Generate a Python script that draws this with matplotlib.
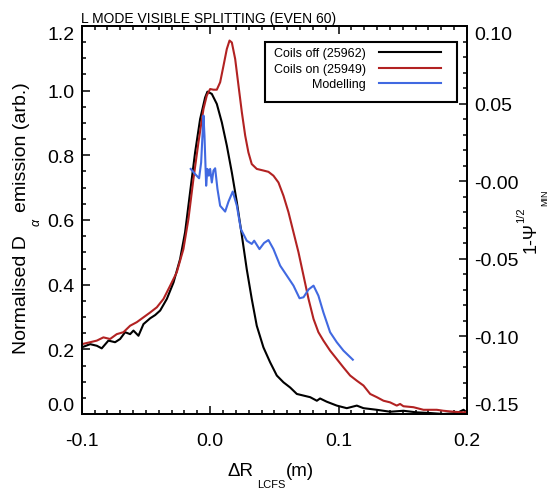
import matplotlib
matplotlib.use("Agg")
import matplotlib.pyplot as plt
from matplotlib.patches import Rectangle
from matplotlib.ticker import MultipleLocator

plt.rcParams['font.family'] = ['Liberation Sans', 'DejaVu Sans']

# Coils off (25962)
off_x = [-0.100, -0.0934, -0.0882, -0.0844, -0.0792, -0.0740, -0.0701, -0.0662, -0.0623, -0.0597,
         -0.0558, -0.0519, -0.0467, -0.0428, -0.0389, -0.0337, -0.0285, -0.0234, -0.0195, -0.0156,
         -0.0117, -0.0078, -0.0039, -0.0021, 0.0013, 0.0052, 0.0091, 0.0130, 0.0169, 0.0208,
         0.0247, 0.0285, 0.0324, 0.0363, 0.0415, 0.0467, 0.0519, 0.0571, 0.0623, 0.0675,
         0.0727, 0.0779, 0.0831, 0.0856, 0.0908, 0.0986, 0.1064, 0.1142, 0.1194, 0.1298,
         0.1401, 0.1505, 0.1609, 0.1713, 0.1817, 0.1921, 0.1973, 0.1998]
off_y = [0.206, 0.216, 0.211, 0.203, 0.227, 0.222, 0.232, 0.253, 0.247, 0.258,
         0.242, 0.278, 0.296, 0.306, 0.320, 0.356, 0.407, 0.479, 0.562, 0.686,
         0.809, 0.912, 0.979, 0.997, 0.990, 0.959, 0.902, 0.830, 0.747, 0.655,
         0.552, 0.448, 0.356, 0.273, 0.206, 0.160, 0.119, 0.098, 0.082, 0.062,
         0.057, 0.052, 0.041, 0.048, 0.038, 0.026, 0.018, 0.026, 0.018, 0.013,
         0.007, 0.010, 0.005, 0.003, 0.000, 0.003, 0.013, 0.005]

# Coils on (25949)
on_x = [-0.0999, -0.0934, -0.0882, -0.0831, -0.0779, -0.0727, -0.0675, -0.0623, -0.0571, -0.0519,
        -0.0467, -0.0415, -0.0363, -0.0311, -0.0260, -0.0208, -0.0169, -0.0130, -0.0091, -0.0052,
        -0.0026, 0.0000, 0.0026, 0.0052, 0.0078, 0.0104, 0.0130, 0.0151, 0.0169, 0.0195,
        0.0221, 0.0247, 0.0273, 0.0298, 0.0324, 0.0363, 0.0415, 0.0454, 0.0493, 0.0532,
        0.0571, 0.0610, 0.0649, 0.0688, 0.0727, 0.0766, 0.0805, 0.0843, 0.0882, 0.0934,
        0.0986, 0.1038, 0.1090, 0.1142, 0.1194, 0.1246, 0.1298, 0.1350, 0.1401, 0.1453,
        0.1479, 0.1505, 0.1583, 0.1661, 0.1765, 0.1817, 0.1895, 0.1973, 0.1998]
on_y = [0.216, 0.222, 0.227, 0.237, 0.232, 0.247, 0.253, 0.273, 0.284, 0.299,
        0.314, 0.330, 0.356, 0.397, 0.438, 0.510, 0.603, 0.727, 0.840, 0.943,
        0.985, 1.005, 1.003, 1.003, 1.026, 1.077, 1.129, 1.155, 1.149, 1.098,
        1.015, 0.933, 0.861, 0.809, 0.773, 0.758, 0.753, 0.749, 0.737, 0.716,
        0.675, 0.624, 0.562, 0.500, 0.428, 0.356, 0.294, 0.253, 0.227, 0.196,
        0.170, 0.144, 0.119, 0.103, 0.088, 0.062, 0.052, 0.041, 0.036, 0.026,
        0.031, 0.024, 0.021, 0.013, 0.013, 0.010, 0.007, 0.005, 0.007]

# Modelling
mod_x = [-0.0151, -0.0117, -0.0086, -0.0070, -0.0052, -0.0044, -0.0031, -0.0021, -0.0010, 0.0000,
         0.0013, 0.0026, 0.0039, 0.0057, 0.0078, 0.0117, 0.0143, 0.0176, 0.0208, 0.0239,
         0.0285, 0.0324, 0.0343, 0.0384, 0.0420, 0.0454, 0.0493, 0.0545, 0.0597, 0.0649,
         0.0696, 0.0727, 0.0766, 0.0805, 0.0843, 0.0882, 0.0934, 0.0986, 0.1038, 0.1111]
mod_y = [0.758, 0.742, 0.729, 0.778, 0.923, 0.861, 0.706, 0.758, 0.737, 0.758,
         0.716, 0.753, 0.760, 0.696, 0.644, 0.626, 0.657, 0.688, 0.644, 0.572,
         0.536, 0.526, 0.536, 0.510, 0.529, 0.538, 0.510, 0.459, 0.428, 0.397,
         0.358, 0.361, 0.385, 0.397, 0.366, 0.314, 0.253, 0.222, 0.196, 0.168]

labels = ['Coils off (25962)', 'Coils on (25949)', 'Modelling']
colors = ['black', '#b22222', '#4169e1']

x_ticks = [-0.1, 0.0, 0.1, 0.2]
y_ticks = [0.0, 0.2, 0.4, 0.6, 0.8, 1.0, 1.2]
psi_ticks = [-0.15, -0.10, -0.05, 0.0, 0.05, 0.10]
psi_labels = ['-0.15', '-0.10', '-0.05', '-0.00', '0.05', '0.10']

W, H = 549, 489
AX_L, AX_R, AX_T, AX_B = 81.7, 467.0, 27.0, 415.0


def px(x, y):
    return x / W, 1 - y / H


def ax_frac(x, y):
    return (x - AX_L) / (AX_R - AX_L), (AX_B - y) / (AX_B - AX_T)


fig = plt.figure(figsize=(W / 100, H / 100), dpi=100)
ax = fig.add_axes([AX_L / W, 1 - AX_B / H, (AX_R - AX_L) / W, (AX_B - AX_T) / H])

ax.plot(off_x, off_y, color=colors[0], lw=1.5, label=labels[0])
ax.plot(on_x, on_y, color=colors[1], lw=1.5, label=labels[1])
ax.plot(mod_x, mod_y, color=colors[2], lw=1.5, label=labels[2])

ax.set_xlim(-0.1, 0.2)
ax.set_ylim(0.0, 1.2)
ax.set_xticks(x_ticks, labels=['%.1f' % v for v in x_ticks])
ax.set_yticks(y_ticks, labels=['%.1f' % v for v in y_ticks])
ax.xaxis.set_minor_locator(MultipleLocator(0.01))
ax.yaxis.set_minor_locator(MultipleLocator(0.05))
ax.tick_params(axis='x', which='both', direction='in', top=True, bottom=True, labelsize=14, pad=13)
ax.tick_params(axis='y', which='both', direction='in', left=True, right=False, labelsize=14, pad=5)
ax.tick_params(which='major', length=6, width=1.1)
ax.tick_params(which='minor', length=3, width=1.1)
for s in ax.spines.values():
    s.set_linewidth(1.3)

ylab = ax.get_yticklabels()
ylab[0].set_va('bottom')
ylab[-1].set_va('top')

ax2 = ax.twinx()
ax2.set_ylim(-0.15, 0.10)
ax2.set_yticks(psi_ticks, labels=psi_labels)
ax2.yaxis.set_minor_locator(MultipleLocator(0.01))
ax2.tick_params(axis='y', which='both', direction='in', labelsize=14, pad=5)
ax2.tick_params(which='major', length=6, width=1.1)
ax2.tick_params(which='minor', length=3, width=1.1)
for s in ax2.spines.values():
    s.set_linewidth(1.3)
plab = ax2.get_yticklabels()
plab[0].set_va('bottom')
plab[-1].set_va('top')

# legend: drawn frameless, with its own box so the padding matches
x0, y0 = ax_frac(265, 103)
x1, y1 = ax_frac(457, 43)
box = Rectangle((x0, y0), x1 - x0, y1 - y0, transform=ax.transAxes, facecolor='white',
                edgecolor='black', lw=1.5, zorder=4, clip_on=False)
ax.add_patch(box)
leg = ax.legend(loc='upper right', bbox_to_anchor=ax_frac(441, 48.5), borderaxespad=0,
                markerfirst=False, fontsize=9, handlelength=5.0, handletextpad=1.0,
                labelspacing=0.28, borderpad=0, frameon=False)
leg.set_zorder(5)

# title and axis labels
fig.text(*px(81, 23), 'L MODE VISIBLE SPLITTING (EVEN 60)', fontsize=10, ha='left', va='baseline')

fig.text(*px(227, 472), 'ΔR', fontsize=13.5, ha='left', va='center')
fig.text(*px(257, 485), 'LCFS', fontsize=8, ha='left', va='center')
fig.text(*px(286, 472), '(m)', fontsize=13.5, ha='left', va='center')

fig.text(*px(22, 354), 'Normalised D', fontsize=14, rotation=90, ha='center', va='bottom')
fig.text(*px(37, 222), 'α', fontsize=9, style='italic', rotation=90, ha='center', va='center')
fig.text(*px(22, 212), 'emission (arb.)', fontsize=14, rotation=90, ha='center', va='bottom')

fig.text(*px(531, 253), '1-Ψ', fontsize=13, rotation=90, ha='center', va='bottom')
fig.text(*px(521, 223), '1/2', fontsize=8, rotation=90, ha='center', va='bottom')
fig.text(*px(545, 206), 'MIN', fontsize=6.5, rotation=90, ha='center', va='bottom')

fig.savefig('out.png', dpi=100)
